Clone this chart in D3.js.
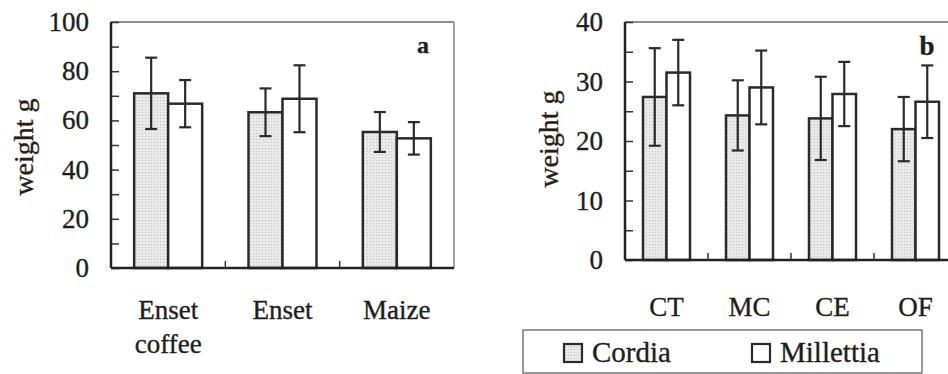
<!DOCTYPE html>
<html><head><meta charset="utf-8">
<script src="https://cdn.jsdelivr.net/npm/d3@7"></script>
<style>body{margin:0;background:#fff}svg{display:block}</style>
</head><body>
<svg id="c" width="948" height="374"></svg>
<script>
// Panel a
const catsA = [["Enset","coffee"],["Enset"],["Maize"]];
const cordiaA = [71, 63.3, 55.3];
const cordiaErrA = [14.5, 9.7, 8.1];
const millA = [66.8, 68.8, 52.7];
const millErrA = [9.6, 13.6, 6.6];
const ticksA = [0,20,40,60,80,100];
// Panel b
const catsB = [["CT"],["MC"],["CE"],["OF"]];
const cordiaB = [27.4, 24.3, 23.8, 22.0];
const cordiaErrB = [8.2, 5.9, 7.0, 5.4];
const millB = [31.5, 29.0, 27.9, 26.6];
const millErrB = [5.5, 6.2, 5.4, 6.1];
const ticksB = [0,10,20,30,40];
const seriesNames = ["Cordia","Millettia"];

const FONT = "'Liberation Serif', 'Times New Roman', Times, serif";
const svg = d3.select("#c");
const defs = svg.append("defs");
const pat = defs.append("pattern").attr("id","dots").attr("width",3).attr("height",3).attr("patternUnits","userSpaceOnUse");
pat.append("rect").attr("width",3).attr("height",3).attr("fill","#e9e9e9");
pat.append("rect").attr("x",1).attr("y",1).attr("width",1).attr("height",1).attr("fill","#c4c4c4");

function txt(sel){
  return sel.append("text").attr("font-family",FONT).attr("fill","#1e1e1e").attr("stroke","#1e1e1e").attr("stroke-width",0.35);
}

function panel(o){
  const g = svg.append("g");
  const x = d3.scaleBand().domain(d3.range(o.cats.length)).range([o.x0,o.x1]).padding(0);
  const y = d3.scaleLinear().domain([0,o.max]).range([o.yb,o.yt]);
  const bw = o.bw;
  g.append("line").attr("x1",o.x0).attr("x2",o.x1).attr("y1",o.yt).attr("y2",o.yt).attr("stroke","#666").attr("stroke-width",1.5);
  g.append("line").attr("x1",o.x1).attr("x2",o.x1).attr("y1",o.yt).attr("y2",o.yb).attr("stroke","#888").attr("stroke-width",1.5);
  const data = o.cats.map((c,i)=>({i, v:[o.c[i],o.m[i]], e:[o.ce[i],o.me[i]]}));
  data.forEach(d=>{
    const cx = x(d.i)+x.bandwidth()/2;
    [0,1].forEach(s=>{
      const bx = s===0 ? cx-bw : cx;
      g.append("rect").attr("x",bx).attr("y",y(d.v[s])).attr("width",bw).attr("height",y(0)-y(d.v[s]))
        .attr("fill", s===0?"url(#dots)":"#fff").attr("stroke","#2a2a2a").attr("stroke-width",2.5);
    });
    [0,1].forEach(s=>{
      const ex = s===0 ? cx-bw/2 : cx+bw/2;
      const hi = y(d.v[s]+d.e[s]), lo = y(d.v[s]-d.e[s]);
      g.append("line").attr("x1",ex).attr("x2",ex).attr("y1",hi).attr("y2",lo).attr("stroke","#2a2a2a").attr("stroke-width",2.2);
      [hi,lo].forEach(yy=>g.append("line").attr("x1",ex-6).attr("x2",ex+6).attr("y1",yy).attr("y2",yy).attr("stroke","#2a2a2a").attr("stroke-width",2.2));
    });
  });
  const ya = d3.axisRight(y).tickValues(o.minor).tickSize(8).tickFormat("");
  const yg = g.append("g").attr("transform",`translate(${o.x0},0)`).call(ya);
  yg.select(".domain").remove();
  yg.selectAll("line").attr("stroke","#333").attr("stroke-width",1.5);
  g.append("line").attr("x1",o.x0).attr("x2",o.x0).attr("y1",o.yt).attr("y2",o.yb).attr("stroke","#222").attr("stroke-width",2.5);
  o.ticks.forEach(d=>txt(g).attr("x",o.x0-22).attr("y",y(d)+9).attr("text-anchor","end").attr("font-size",27).text(d));
  g.append("line").attr("x1",o.x0).attr("x2",o.x1).attr("y1",o.yb).attr("y2",o.yb).attr("stroke","#222").attr("stroke-width",2.5);
  d3.range(1,o.cats.length).forEach(i=>g.append("line").attr("x1",x(i)).attr("x2",x(i)).attr("y1",o.yb).attr("y2",o.yb-7).attr("stroke","#333").attr("stroke-width",1.5));
  o.cats.forEach((c,i)=>{
    c.forEach((t,j)=>txt(g).attr("x",x(i)+x.bandwidth()/2).attr("y",o.xl+j*34).attr("text-anchor","middle").attr("font-size",27).text(t));
  });
  txt(g).attr("transform",`translate(${o.ylx},${o.yly}) rotate(-90)`).attr("text-anchor","middle").attr("font-size",28).attr("fill","#2a1e14").attr("stroke","#2a1e14").text("weight g");
  txt(g).attr("x",o.lx).attr("y",o.ly).attr("text-anchor","middle").attr("font-weight","bold").attr("font-size",o.lfs).text(o.label);
}

panel({cats:catsA,c:cordiaA,ce:cordiaErrA,m:millA,me:millErrA,ticks:ticksA,minor:d3.range(0,101,10),max:100,
  x0:111,x1:454,yb:268,yt:22,bw:34,xl:319,ylx:33,yly:147,lx:423,ly:53,label:"a",lfs:24});
panel({cats:catsB,c:cordiaB,ce:cordiaErrB,m:millB,me:millErrB,ticks:ticksB,minor:d3.range(0,41,5),max:40,
  x0:625,x1:957,yb:260,yt:22,bw:23.5,xl:316,ylx:558,yly:139,lx:927,ly:55,label:"b",lfs:27});

const lg = svg.append("g");
lg.append("rect").attr("x",523).attr("y",330).attr("width",399).attr("height",43).attr("fill","#fff").attr("stroke","#777").attr("stroke-width",1.5);
const lx = d3.scaleOrdinal().domain(seriesNames).range([564,752]);
seriesNames.forEach((n,i)=>{
  lg.append("rect").attr("x",lx(n)).attr("y",344).attr("width",18).attr("height",18).attr("fill",i===0?"url(#dots)":"#fff").attr("stroke","#2a2a2a").attr("stroke-width",2.2);
  txt(lg).attr("x",lx(n)+28).attr("y",362).attr("font-size",29).text(n);
});
</script>
</body></html>
